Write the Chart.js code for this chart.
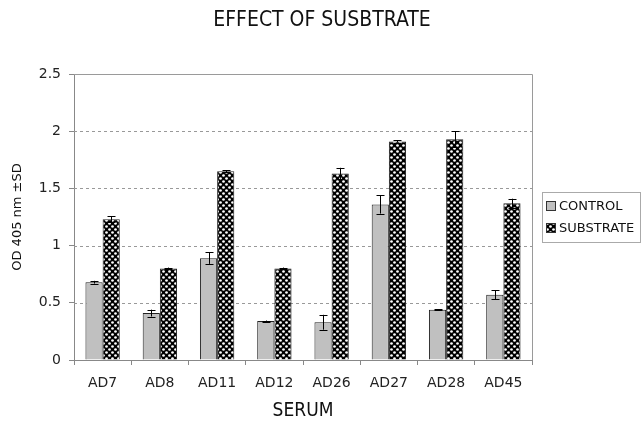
<!DOCTYPE html>
<html><head><meta charset="utf-8">
<script src="https://cdn.jsdelivr.net/npm/chart.js@4/dist/chart.umd.min.js"></script>
<style>html,body{margin:0;padding:0;background:#fff}#wrap{width:644px;height:423px;position:relative}</style>
</head><body><div id="wrap"><canvas id="c"></canvas></div>
<script>
const categories = ['AD7','AD8','AD11','AD12','AD26','AD27','AD28','AD45'];
const controlValues = [0.68,0.41,0.89,0.34,0.33,1.36,0.44,0.57];
const controlErrors = [0.012,0.03,0.05,0.005,0.065,0.08,0.005,0.04];
const substrateValues = [1.23,0.80,1.65,0.80,1.63,1.91,1.93,1.37];
const substrateErrors = [0.025,0.008,0.01,0.008,0.05,0.01,0.07,0.04];
const yTicks = [0,0.5,1,1.5,2,2.5];
const seriesNames = ['CONTROL','SUBSTRATE'];
const chartTitle = 'EFFECT OF SUSBTRATE';
const FONT = "'DejaVu Sans', Verdana, sans-serif";
const CFONT = "'DejaVu Sans Condensed', 'Liberation Sans Narrow', 'DejaVu Sans', sans-serif";

function makePattern(){
  const c = document.createElement('canvas');
  c.width = 6; c.height = 6;
  const g = c.getContext('2d');
  g.fillStyle = '#000'; g.fillRect(0,0,6,6);
  g.fillStyle = '#fff';
  g.beginPath(); g.arc(1.5,1.5,1.35,0,Math.PI*2); g.fill();
  g.beginPath(); g.arc(4.5,4.5,1.35,0,Math.PI*2); g.fill();
  return document.getElementById('c').getContext('2d').createPattern(c,'repeat');
}
const pattern = makePattern();
const fills = ['#c0c0c0', pattern];
const errs = [controlErrors, substrateErrors];

const decor = {
  id:'decor',
  beforeDatasetsDraw(chart){
    const {ctx, chartArea:a, scales:{y}} = chart;
    ctx.save();
    ctx.strokeStyle = '#999'; ctx.lineWidth = 1; ctx.setLineDash([3,3]);
    yTicks.forEach(v=>{
      if (v===0 || v===2.5) return;
      const py = Math.round(y.getPixelForValue(v))+0.5;
      ctx.beginPath(); ctx.moveTo(a.left, py); ctx.lineTo(a.right, py); ctx.stroke();
    });
    ctx.setLineDash([]);
    ctx.strokeStyle = '#9a9a9a';
    ctx.beginPath();
    ctx.moveTo(a.left, Math.round(a.top)+0.5); ctx.lineTo(Math.round(a.right)+0.5, Math.round(a.top)+0.5);
    ctx.lineTo(Math.round(a.right)+0.5, a.bottom);
    ctx.stroke();
    ctx.restore();
  },
  afterDatasetsDraw(chart){
    const {ctx, scales:{y}} = chart;
    ctx.save();
    ctx.strokeStyle = '#000'; ctx.lineWidth = 1;
    chart.data.datasets.forEach((ds,i)=>{
      const meta = chart.getDatasetMeta(i);
      meta.data.forEach((bar,j)=>{
        const v = ds.data[j], e = errs[i][j];
        const x = Math.round(bar.x)+0.5;
        const y1 = y.getPixelForValue(v+e), y2 = y.getPixelForValue(v-e);
        ctx.beginPath();
        ctx.moveTo(x,y1); ctx.lineTo(x,y2);
        ctx.moveTo(x-4,Math.round(y1)+0.5); ctx.lineTo(x+4,Math.round(y1)+0.5);
        ctx.moveTo(x-4,Math.round(y2)+0.5); ctx.lineTo(x+4,Math.round(y2)+0.5);
        ctx.stroke();
      });
    });
    ctx.restore();
  },
  afterDraw(chart){
    const {ctx, width} = chart;
    ctx.save();
    ctx.font = "21px " + CFONT;
    ctx.fillStyle = '#111';
    ctx.textAlign = 'center';
    ctx.textBaseline = 'middle';
    ctx.fillText(chartTitle, width/2, 21);
    ctx.textAlign = 'left';
    ctx.strokeStyle = '#aaa'; ctx.lineWidth = 1;
    ctx.strokeRect(542.5, 192.5, 98, 50);
    ctx.font = "13px " + FONT;
    const rows = [206, 228];
    seriesNames.forEach((n,i)=>{
      ctx.fillStyle = fills[i];
      ctx.fillRect(546, rows[i]-5, 10, 10);
      ctx.strokeStyle = '#333';
      ctx.strokeRect(546.5, rows[i]-4.5, 9, 9);
      ctx.fillStyle = '#111';
      ctx.fillText(n, 559, rows[i]+0.5);
    });
    ctx.restore();
  }
};

new Chart(document.getElementById('c'), {
  type:'bar',
  data:{
    labels: categories,
    datasets:[
      {label:seriesNames[0], data:controlValues, backgroundColor:fills[0], borderColor:'#222', borderWidth:1, barPercentage:1, categoryPercentage:0.6},
      {label:seriesNames[1], data:substrateValues, backgroundColor:fills[1], borderColor:'#222', borderWidth:1, barPercentage:1, categoryPercentage:0.6}
    ]
  },
  options:{
    responsive:true, maintainAspectRatio:false, animation:false,
    layout:{padding:{left:0,right:112,top:74,bottom:0}},
    plugins:{
      legend:{display:false},
      tooltip:{enabled:false},
      title:{display:false}
    },
    scales:{
      x:{
        afterFit(s){ s.height = 63; },
        grid:{display:true, drawOnChartArea:false, drawTicks:true, tickLength:5, color:'#888', offset:true},
        border:{display:true, color:'#888'},
        ticks:{color:'#222', font:{family:FONT, size:14}, padding:10, maxRotation:0},
        title:{display:true, text:'SERUM', color:'#111', font:{family:CFONT, size:19}, padding:{top:0,bottom:1}}
      },
      y:{
        min:0, max:2.5,
        afterFit(s){ s.width = 74; },
        afterBuildTicks(s){ s.ticks = yTicks.map(v=>({value:v})); },
        grid:{display:true, drawOnChartArea:false, drawTicks:true, tickLength:5, color:'#888'},
        border:{display:true, color:'#888'},
        ticks:{color:'#222', font:{family:FONT, size:14}, padding:8, callback:v=>String(v)},
        title:{display:true, text:'OD 405 nm ±SD', color:'#111', font:{family:FONT, size:13}, padding:{top:10,bottom:4}}
      }
    }
  },
  plugins:[decor]
});
</script></body></html>
